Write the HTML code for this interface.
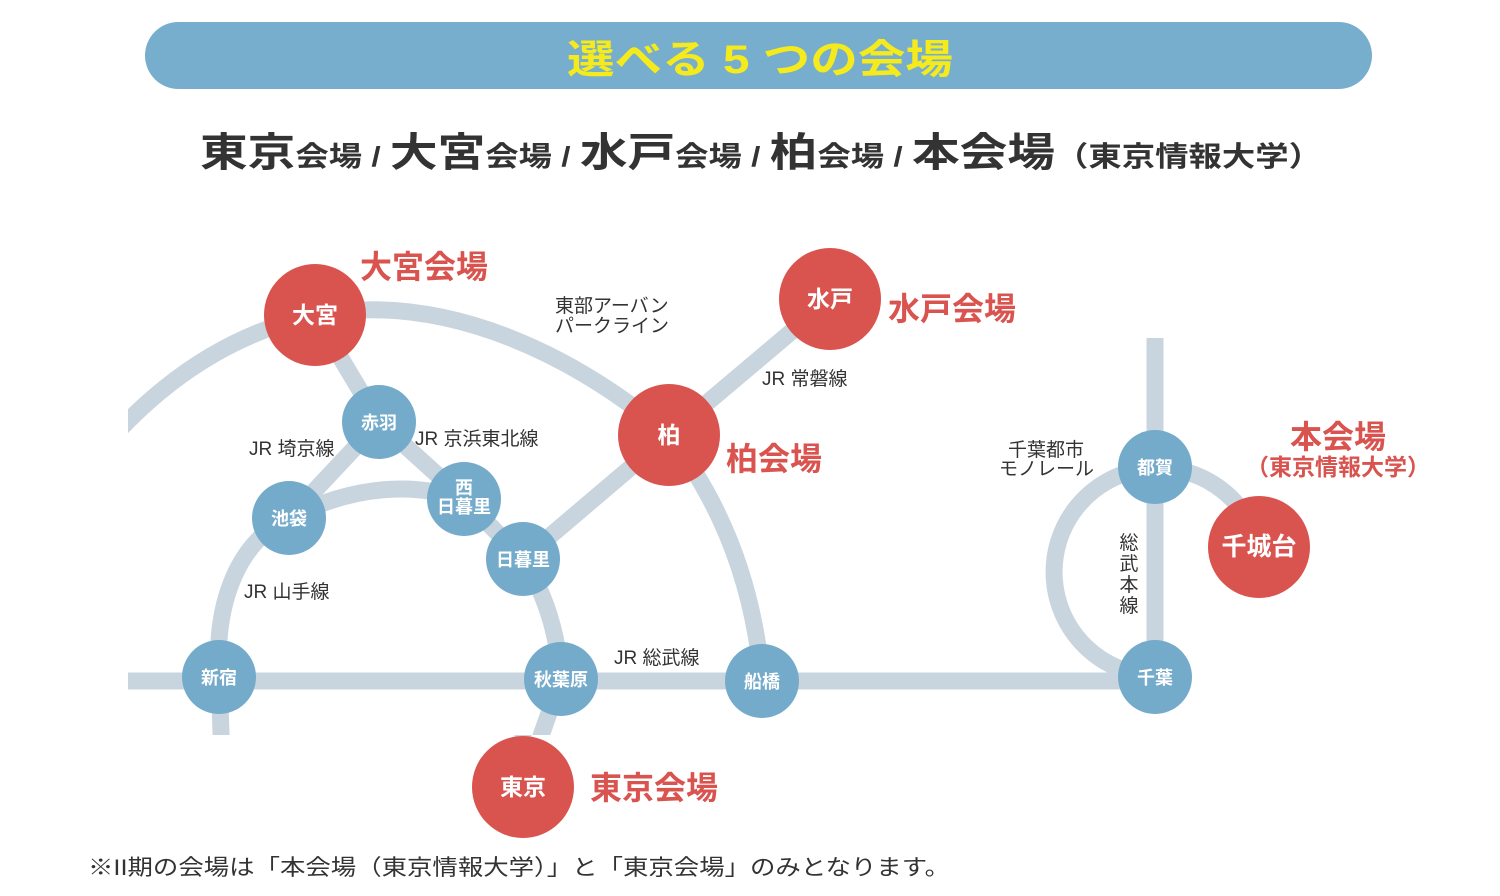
<!DOCTYPE html>
<html><head><meta charset="utf-8"><style>
html,body{margin:0;padding:0;background:#fff;}
svg{display:block;font-family:"Liberation Sans","Noto Sans CJK JP",sans-serif;}
</style></head><body>
<svg width="1500" height="896" viewBox="0 0 1500 896" xmlns="http://www.w3.org/2000/svg">
<defs><clipPath id="c"><rect x="128" y="0" width="1372" height="735"/></clipPath></defs>
<rect x="145" y="22" width="1227" height="67" rx="33.5" fill="#78aecd"/>
<text x="567" y="73" font-size="40" font-weight="bold" fill="#f5ea1c" textLength="386" lengthAdjust="spacingAndGlyphs">選べる 5 つの会場</text>
<text x="200" y="166" fill="#333" font-weight="bold" textLength="1122" lengthAdjust="spacingAndGlyphs"><tspan font-size="40">東京</tspan><tspan font-size="28">会場 / </tspan><tspan font-size="40">大宮</tspan><tspan font-size="28">会場 / </tspan><tspan font-size="40">水戸</tspan><tspan font-size="28">会場 / </tspan><tspan font-size="40">柏</tspan><tspan font-size="28">会場 / </tspan><tspan font-size="40">本会場</tspan><tspan font-size="28">（東京情報大学）</tspan></text>

<g fill="none" stroke="#c9d5de" stroke-width="17" clip-path="url(#c)">
<path d="M128,681 H1155"/>
<path d="M110,440 Q200,340 315,315 C450,290 580,360 669,435 Q750,540 762,681"/>
<path d="M222,760 L219,677 C214,600 240,540 289,518 Q380,472 464,499 L523,559 Q556,610 561,679 L523,787"/>
<path d="M315,315 L379,422 L289,518"/>
<path d="M379,422 L464,499"/>
<path d="M669,435 L523,559"/>
<path d="M669,435 L830,299"/>
<path d="M1155,338 V677"/>
<path d="M1259,547 A104,104 0 1 0 1155,676"/>
</g>
<path d="M523,735 L523,787" stroke="#c9d5de" stroke-width="17"/>

<g fill="#d9534f">
<circle cx="315" cy="315" r="51"/>
<circle cx="830" cy="299" r="51"/>
<circle cx="669" cy="435" r="51"/>
<circle cx="523" cy="787" r="51"/>
<circle cx="1259" cy="547" r="51"/>
</g>
<g fill="#74abcb">
<circle cx="379" cy="422" r="37"/>
<circle cx="289" cy="518" r="37"/>
<circle cx="464" cy="499" r="37"/>
<circle cx="523" cy="559" r="37"/>
<circle cx="219" cy="677" r="37"/>
<circle cx="561" cy="679" r="37"/>
<circle cx="762" cy="681" r="37"/>
<circle cx="1155" cy="467" r="37"/>
<circle cx="1155" cy="677" r="37"/>
</g>

<g fill="#fff" font-weight="bold" text-anchor="middle">
<text x="315" y="323" font-size="23">大宮</text>
<text x="830" y="307" font-size="23">水戸</text>
<text x="669" y="443" font-size="23">柏</text>
<text x="523" y="795" font-size="23">東京</text>
<text x="1259" y="555" font-size="25">千城台</text>
<g font-size="18">
<text x="379" y="429">赤羽</text>
<text x="289" y="525">池袋</text>
<text x="464" y="494">西</text>
<text x="464" y="513">日暮里</text>
<text x="523" y="566">日暮里</text>
<text x="219" y="684">新宿</text>
<text x="561" y="686">秋葉原</text>
<text x="762" y="688">船橋</text>
<text x="1155" y="474">都賀</text>
<text x="1155" y="684">千葉</text>
</g>
</g>

<g fill="#d9534f" font-weight="bold">
<text x="360" y="278" font-size="32">大宮会場</text>
<text x="888" y="320" font-size="32">水戸会場</text>
<text x="726" y="470" font-size="32">柏会場</text>
<text x="590" y="799" font-size="32">東京会場</text>
<text x="1338" y="448" font-size="32" text-anchor="middle">本会場</text>
<text x="1338" y="475" font-size="23" text-anchor="middle">（東京情報大学）</text>
</g>

<g fill="#333" font-size="19">
<text x="555" y="312">東部アーバン</text>
<text x="555" y="332">パークライン</text>
<text x="762" y="385">JR 常磐線</text>
<text x="249" y="455">JR 埼京線</text>
<text x="415" y="445">JR 京浜東北線</text>
<text x="244" y="598">JR 山手線</text>
<text x="614" y="664">JR 総武線</text>
<text x="1008" y="456">千葉都市</text>
<text x="999" y="475">モノレール</text>
<text x="1129" y="549" text-anchor="middle">総</text>
<text x="1129" y="570" text-anchor="middle">武</text>
<text x="1129" y="591" text-anchor="middle">本</text>
<text x="1129" y="612" text-anchor="middle">線</text>
</g>
<text x="88" y="875" font-size="22" fill="#333" textLength="862" lengthAdjust="spacingAndGlyphs">※II期の会場は「本会場（東京情報大学）」と「東京会場」のみとなります。</text>
</svg>
</body></html>
